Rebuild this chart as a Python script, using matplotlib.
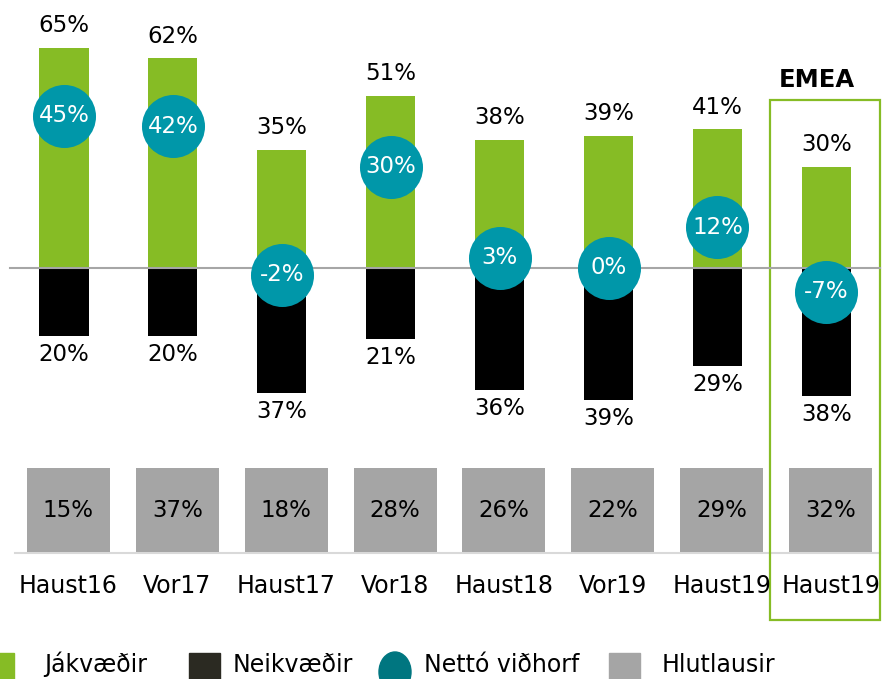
import numpy as np
import matplotlib
matplotlib.use("Agg")
import matplotlib.pyplot as plt
from matplotlib.patches import Rectangle, Ellipse

# gögn lesin af myndinni
flokkar = ['Haust16', 'Vor17', 'Haust17', 'Vor18', 'Haust18', 'Vor19', 'Haust19', 'Haust19']
jakvaedir = [65, 62, 35, 51, 38, 39, 41, 30]
neikvaedir = [20, 20, 37, 21, 36, 39, 29, 38]
netto = [45, 42, -2, 30, 3, 0, 12, -7]
hlutlausir = [15, 37, 18, 28, 26, 22, 29, 32]
skyringar = ['Jákvæðir', 'Neikvæðir', 'Nettó viðhorf', 'Hlutlausir']

graenn = '#86BC25'
blagraenn = '#0097A9'
grar = '#A5A5A5'

W, H = 891, 679
fig = plt.figure(figsize=(W / 100, H / 100), dpi=100)
ax = fig.add_axes([0, 0, 1, 1])
ax.set_axis_off()

# pixel -> gagnahnit: x = 64 + 108.9*i, y = 268 - 3.38*v
ax.set_xlim(-64 / 108.9, (W - 64) / 108.9)
ax.set_ylim((268 - H) / 3.38, 268 / 3.38)

x = np.arange(len(flokkar))
jak = np.array(jakvaedir)
nei = np.array(neikvaedir)

ax.bar(x, jak, width=0.45, color=graenn, zorder=2)
ax.bar(x, -nei, width=0.45, color='black', zorder=2)
ax.plot([-0.496, 7.49], [0, 0], color='#A6A6A6', lw=1.5, zorder=3)

for i in x:
    ax.text(i, jak[i] + 4.7, f'{jak[i]}%', ha='center', va='baseline', fontsize=16.5)
    ax.text(i, -nei[i] - 7.4, f'{nei[i]}%', ha='center', va='baseline', fontsize=16.5)

ax.scatter(x, netto, s=2060, color=blagraenn, zorder=4, linewidths=0)
for i in x:
    ax.text(i, netto[i], f'{netto[i]}%', ha='center', va='center', color='white',
            fontsize=16.5, zorder=5)

# hlutlausir kassar
xb = x + 0.04
ax.bar(xb, 24.8, bottom=-84.0, width=0.762, color=grar, zorder=2)
for i in x:
    ax.text(xb[i], -71.6, f'{hlutlausir[i]}%', ha='center', va='center', fontsize=16.5)
    ax.text(xb[i], -96.2, flokkar[i], ha='center', va='baseline', fontsize=17)
ax.plot([-0.45, 7.49], [-84.3, -84.3], color='#D9D9D9', lw=1.5, zorder=1)

# EMEA rammi
ax.add_patch(Rectangle((6.483, -104.1), 1.01, 153.8, fill=False, edgecolor=graenn, lw=1.6, zorder=1))
ax.text(6.915, 53.5, 'EMEA', ha='center', va='baseline', fontsize=17.5, fontweight='bold')

# skýringar neðst
lx = fig.add_axes([0, 0, 1, 1], facecolor='none')
lx.set_axis_off()
lx.set_xlim(0, W)
lx.set_ylim(H, 0)
lx.add_patch(Rectangle((-17, 653), 31, 31, color=graenn))
lx.add_patch(Rectangle((189, 653), 31, 31, color='#2B2A22'))
lx.add_patch(Ellipse((395, 672), 32, 40, color='#007680'))
lx.add_patch(Rectangle((609, 653), 31, 31, color=grar))
for xt, txt in zip([44, 233, 424, 662], skyringar):
    lx.text(xt, 672, txt, ha='left', va='baseline', fontsize=17)

fig.savefig('out.png', dpi=100)
